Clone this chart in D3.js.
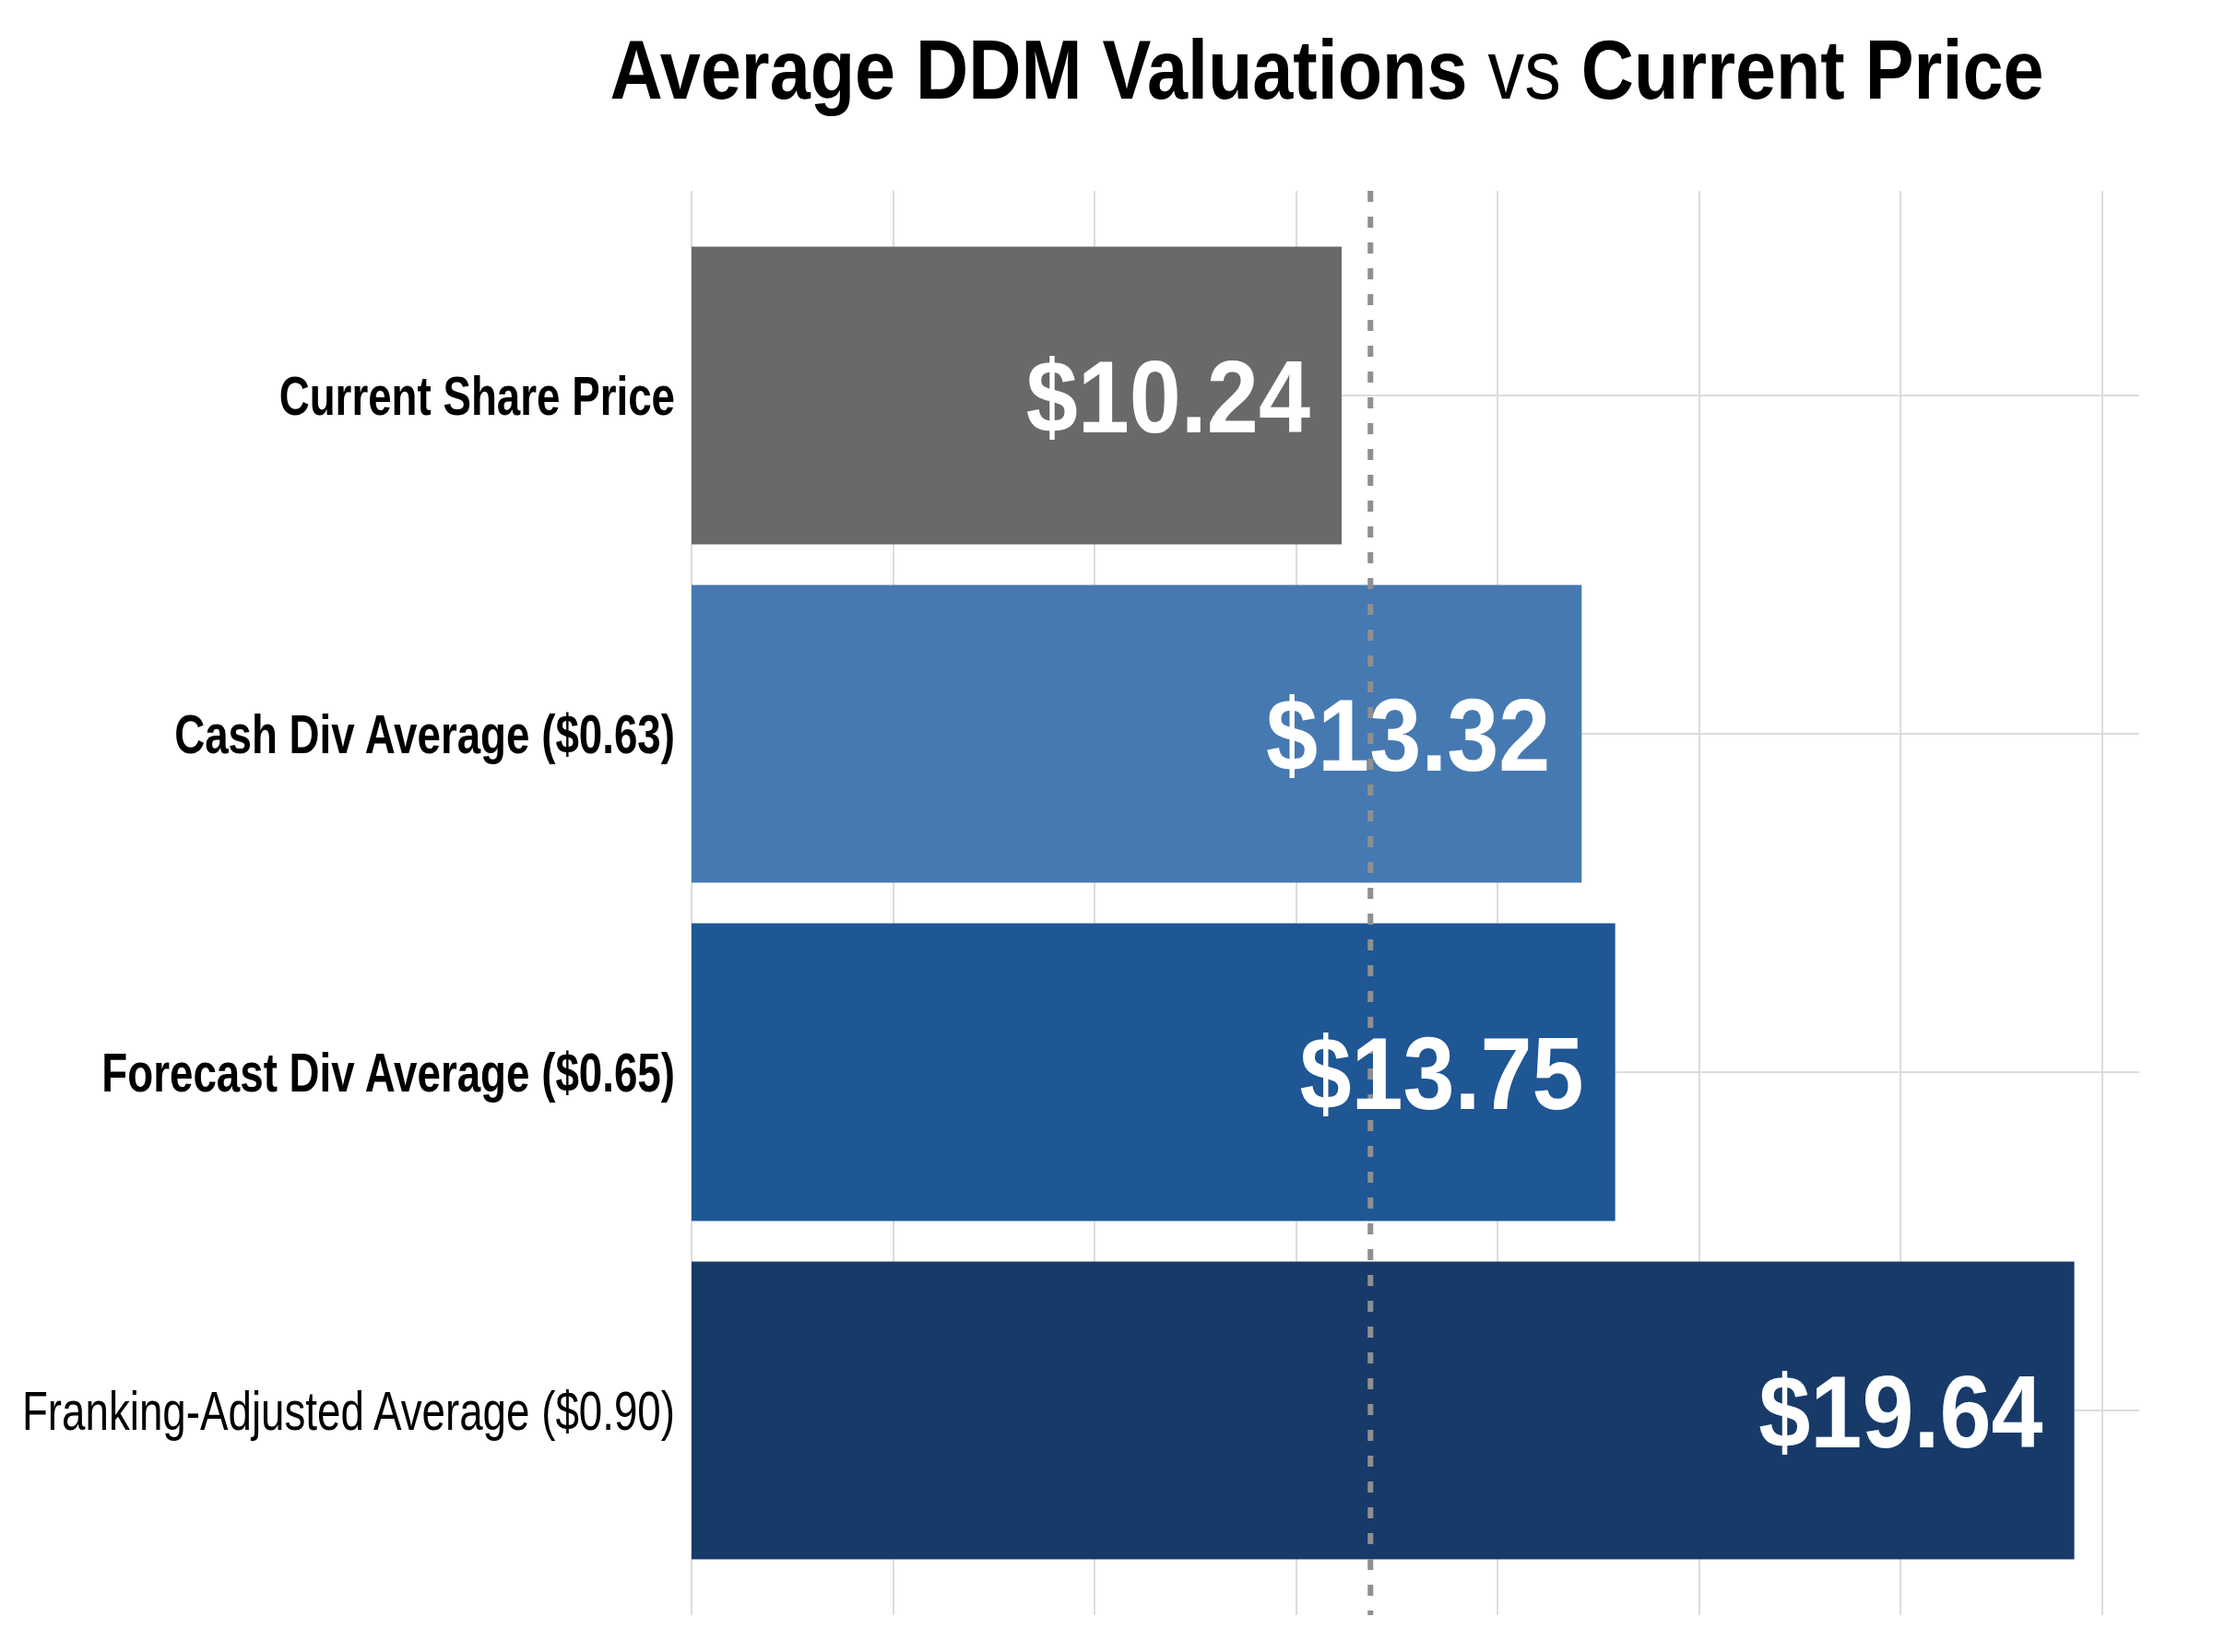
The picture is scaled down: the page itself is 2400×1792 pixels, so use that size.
<!DOCTYPE html>
<html>
<head>
<meta charset="utf-8">
<script src="https://cdn.jsdelivr.net/npm/d3@7"></script>
<style>
  html, body { margin: 0; padding: 0; background: #fff; }
  svg { display: block; font-family: "Liberation Sans", Arial, sans-serif; }
</style>
</head>
<body>
<svg id="chart" width="2400" height="1792"></svg>
<script>
// Data
const categories = [
    'Current Share Price',
    'Cash Div Average ($0.63)',
    'Forecast Div Average ($0.65)',
    'Franking-Adjusted Average ($0.90)'
];
const values = [10.24, 13.32, 13.75, 19.64];
const valueLabels = ['$10.24', '$13.32', '$13.75', '$19.64'];
const barColors = ['#696969', '#4679b2', '#1f5694', '#173a69'];
const labelWeights = ['bold', 'bold', 'bold', 'normal'];
const gridTicks = [1.9, 4.49, 7.07, 9.66, 12.24, 14.83, 17.41, 20];
const refLineValue = 10.61;

const svg = d3.select('#chart');
const margin = { top: 207, right: 120, bottom: 40, left: 750 };
const width = 2280 - margin.left;
const height = 1752 - margin.top;

// Narrow look: squeeze text horizontally
const narrowLabel = 0.775;
const narrowValue = 0.9;
const narrowTitle = 0.88;

const g = svg.append('g')
    .attr('transform', `translate(${margin.left},${margin.top})`);

// Scales
const xScale = d3.scaleLinear()
    .domain([1.9, 20])
    .range([0, width]);

const yScale = d3.scaleBand()
    .domain(categories)
    .range([0, height])
    .paddingInner(0.12)
    .paddingOuter(0.165);

// Vertical grid
g.selectAll('.vgrid')
    .data(gridTicks)
    .enter()
    .append('line')
    .attr('x1', d => xScale(d))
    .attr('x2', d => xScale(d))
    .attr('y1', 0)
    .attr('y2', height)
    .style('stroke', '#dcdcdc')
    .style('stroke-width', 2);

// Horizontal grid at band centres
g.selectAll('.hgrid')
    .data(categories)
    .enter()
    .append('line')
    .attr('x1', 0)
    .attr('x2', 2320 - margin.left)
    .attr('y1', d => yScale(d) + yScale.bandwidth() / 2)
    .attr('y2', d => yScale(d) + yScale.bandwidth() / 2)
    .style('stroke', '#dcdcdc')
    .style('stroke-width', 2);

// Bars
g.selectAll('.bar')
    .data(categories)
    .enter()
    .append('rect')
    .attr('x', xScale(1.9))
    .attr('y', d => yScale(d))
    .attr('width', (d, i) => xScale(values[i]) - xScale(1.9))
    .attr('height', yScale.bandwidth())
    .style('fill', (d, i) => barColors[i]);

// Reference line (dashed)
g.append('line')
    .attr('x1', xScale(refLineValue))
    .attr('x2', xScale(refLineValue))
    .attr('y1', 0)
    .attr('y2', height)
    .style('stroke', '#8f8f8f')
    .style('stroke-width', 6)
    .style('stroke-dasharray', '12,16');

// Value labels inside bars
g.selectAll('.val')
    .data(categories)
    .enter()
    .append('text')
    .attr('transform', `scale(${narrowValue},1)`)
    .attr('x', (d, i) => (xScale(values[i]) - 34) / narrowValue)
    .attr('y', d => yScale(d) + yScale.bandwidth() / 2)
    .attr('dy', '0.36em')
    .attr('text-anchor', 'end')
    .style('font-size', '112px')
    .style('font-weight', 'bold')
    .style('fill', '#fff')
    .text((d, i) => valueLabels[i]);

// Category labels
g.selectAll('.cat')
    .data(categories)
    .enter()
    .append('text')
    .attr('transform', `scale(${narrowLabel},1)`)
    .attr('x', -18 / narrowLabel)
    .attr('y', d => yScale(d) + yScale.bandwidth() / 2)
    .attr('dy', '0.36em')
    .attr('text-anchor', 'end')
    .style('font-size', '59px')
    .style('font-weight', (d, i) => labelWeights[i])
    .style('fill', '#000')
    .text(d => d);

// Title
const title = svg.append('text')
    .attr('transform', `scale(${narrowTitle},1)`)
    .attr('x', 1439 / narrowTitle)
    .attr('y', 107)
    .attr('text-anchor', 'middle')
    .style('font-size', '90px')
    .style('fill', '#000');
title.append('tspan').style('font-weight', 'bold').text('Average DDM Valuations ');
title.append('tspan').style('font-weight', 'normal').text('vs');
title.append('tspan').style('font-weight', 'bold').text(' Current Price');
</script>
</body>
</html>
